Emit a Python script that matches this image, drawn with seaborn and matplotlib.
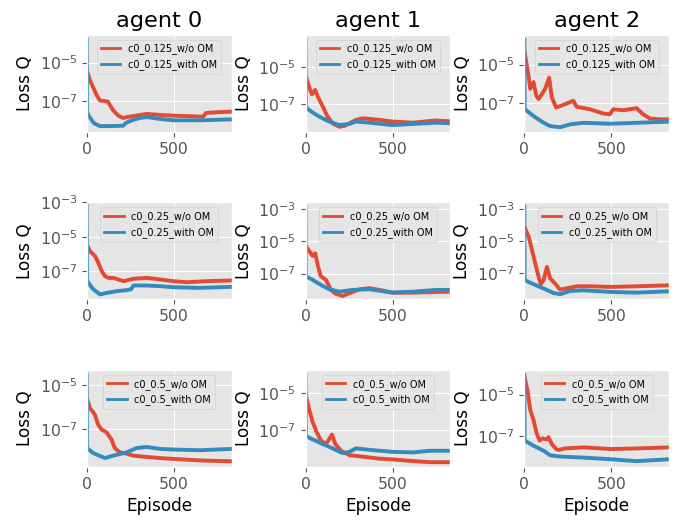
import matplotlib
matplotlib.use("Agg")
import matplotlib.pyplot as plt
import matplotlib.ticker as mticker
import seaborn as sns
import numpy as np

# ---- data: (episode, log10(Loss Q)) ----
agents = ["agent 0", "agent 1", "agent 2"]
c0_values = ["0.125", "0.25", "0.5"]

a0_c0125_wo = [(0,-5.38),(17,-5.9),(40,-6.35),(56,-6.68),(75,-6.97),(100,-7.0),(121,-7.03),(150,-7.46),(180,-7.75),(209,-7.88),(240,-7.82),(266,-7.78),(345,-7.67),(420,-7.72),(500,-7.76),(580,-7.78),(650,-7.81),(670,-7.8),(685,-7.62),(750,-7.58),(833,-7.55)]
a0_c0125_om = [(0,-3.8),(2,-7.55),(10,-7.75),(40,-8.14),(75,-8.3),(140,-8.3),(209,-8.28),(224,-8.14),(260,-8.0),(305,-7.88),(345,-7.83),(420,-7.93),(500,-8.0),(650,-8.0),(833,-7.95)]
a1_c0125_wo = [(0,-5.43),(21,-6.1),(37,-6.48),(56,-6.24),(69,-6.57),(98,-7.13),(127,-7.69),(156,-8.06),(194,-8.24),(223,-8.2),(290,-7.87),(329,-7.78),(425,-7.87),(500,-7.96),(617,-8.02),(750,-7.9),(833,-7.95)]
a1_c0125_om = [(0,-3.45),(2,-7.1),(10,-7.25),(40,-7.46),(79,-7.69),(136,-7.96),(194,-8.15),(252,-8.09),(290,-7.96),(367,-8.02),(500,-8.15),(617,-8.09),(750,-8.02),(833,-8.05)]
a2_c0125_wo = [(0,-4.25),(25,-5.65),(34,-6.26),(53,-5.91),(69,-6.61),(82,-6.79),(101,-6.53),(120,-6.26),(143,-5.68),(158,-6.7),(183,-7.23),(225,-7.09),(282,-6.88),(301,-7.19),(378,-7.32),(454,-7.54),(492,-7.58),(511,-7.32),(569,-7.37),(645,-7.26),(683,-7.58),(721,-7.79),(778,-7.84),(833,-7.84)]
a2_c0125_om = [(0,-3.7),(2,-7.3),(15,-7.4),(53,-7.67),(111,-8.02),(149,-8.19),(206,-8.25),(263,-8.1),(340,-8.02),(492,-8.07),(645,-8.02),(833,-7.96)]

a0_c025_wo = [(0,-5.45),(19,-5.84),(48,-6.13),(67,-6.52),(86,-7.0),(105,-7.29),(125,-7.39),(153,-7.39),(211,-7.58),(268,-7.44),(345,-7.39),(421,-7.48),(498,-7.58),(575,-7.64),(690,-7.58),(833,-7.54)]
a0_c025_om = [(0,-3.2),(2,-7.55),(10,-7.68),(38,-8.06),(77,-8.35),(115,-8.26),(172,-8.16),(230,-8.1),(255,-8.05),(268,-7.83),(345,-7.83),(421,-7.87),(498,-7.93),(651,-7.97),(833,-7.91)]
a1_c025_wo = [(0,-5.27),(21,-5.59),(40,-5.9),(56,-5.74),(69,-6.43),(88,-7.17),(117,-7.38),(146,-8.01),(175,-8.26),(213,-8.39),(252,-8.22),(310,-7.97),(367,-7.9),(425,-8.01),(500,-8.18),(617,-8.18),(752,-8.14),(833,-8.12)]
a1_c025_om = [(0,-2.85),(2,-7.17),(40,-7.38),(98,-7.76),(136,-7.97),(194,-8.12),(271,-8.01),(367,-7.97),(500,-8.18),(617,-8.12),(752,-8.01),(833,-8.01)]
a2_c025_wo = [(0,-4.1),(25,-4.72),(44,-5.55),(63,-6.38),(82,-7.2),(95,-7.66),(111,-7.41),(130,-6.59),(149,-7.31),(177,-7.62),(206,-8.0),(235,-7.93),(301,-7.79),(378,-7.79),(500,-7.83),(645,-7.79),(833,-7.73)]
a2_c025_om = [(0,-2.85),(2,-7.41),(53,-7.66),(111,-7.93),(168,-8.2),(206,-8.28),(263,-8.08),(340,-8.04),(500,-8.14),(645,-8.18),(833,-8.1)]

a0_c05_wo = [(0,-5.57),(17,-6.03),(46,-6.34),(65,-6.8),(85,-7.03),(113,-7.15),(142,-7.49),(161,-7.88),(190,-8.08),(229,-8.14),(267,-8.23),(344,-8.29),(421,-8.34),(500,-8.38),(652,-8.45),(833,-8.49)]
a0_c05_om = [(0,-4.5),(2,-7.88),(37,-8.11),(104,-8.34),(152,-8.23),(229,-8.08),(287,-7.88),(344,-7.83),(421,-7.92),(500,-7.95),(652,-7.98),(833,-7.92)]
a1_c05_wo = [(0,-5.04),(21,-5.88),(40,-6.53),(63,-7.09),(88,-7.56),(117,-7.75),(137,-7.47),(152,-7.24),(171,-7.75),(204,-8.12),(252,-8.36),(329,-8.44),(425,-8.55),(500,-8.59),(617,-8.68),(713,-8.74),(833,-8.74)]
a1_c05_om = [(0,-4.0),(2,-7.32),(40,-7.5),(98,-7.75),(156,-7.99),(213,-8.25),(252,-8.18),(290,-7.99),(367,-8.07),(500,-8.18),(617,-8.21),(713,-8.12),(833,-8.12)]
a2_c05_wo = [(0,-4.1),(19,-4.84),(34,-5.74),(53,-6.23),(72,-6.89),(88,-7.21),(107,-7.1),(126,-7.16),(139,-7.05),(158,-7.38),(183,-7.62),(197,-7.66),(235,-7.59),(340,-7.54),(500,-7.62),(645,-7.59),(833,-7.54)]
a2_c05_om = [(0,-4.05),(2,-7.21),(53,-7.46),(111,-7.7),(149,-7.92),(206,-7.98),(340,-8.03),(500,-8.11),(645,-8.2),(833,-8.11)]

wo_series = [[a0_c0125_wo, a1_c0125_wo, a2_c0125_wo],
             [a0_c025_wo, a1_c025_wo, a2_c025_wo],
             [a0_c05_wo, a1_c05_wo, a2_c05_wo]]
om_series = [[a0_c0125_om, a1_c0125_om, a2_c0125_om],
             [a0_c025_om, a1_c025_om, a2_c025_om],
             [a0_c05_om, a1_c05_om, a2_c05_om]]

# axis limits (log10) per panel
ylims = [[(-8.6, -3.56), (-8.52, -3.24), (-8.49, -3.46)],
         [(-8.64, -3.04), (-8.6, -2.58), (-8.6, -2.61)],
         [(-8.75, -4.29), (-9.0, -3.73), (-8.48, -3.82)]]
yticks = [[1e-5, 1e-7], [1e-3, 1e-5, 1e-7], [1e-5, 1e-7]]
n_episodes = 833

# ---- style ----
plt.style.use("ggplot")
plt.rcParams.update({
    "font.family": ["DejaVu Sans"],
    "font.size": 11.3,
    "axes.titlesize": 16.2,
    "axes.labelsize": 12.2,
    "axes.labelcolor": "black",
    "xtick.labelsize": 11.3,
    "ytick.labelsize": 11.3,
})

RED = "#E24A33"
BLUE = "#348ABD"

fig, axes = plt.subplots(3, 3, figsize=(6.78, 5.2), dpi=100)
fig.subplots_adjust(left=0.128, right=0.987, top=0.933, bottom=0.102,
                    wspace=0.51, hspace=0.727)

for r in range(3):
    for c in range(3):
        ax = axes[r, c]
        wo = wo_series[r][c]
        om = om_series[r][c]
        sns.lineplot(x=[p[0] for p in wo], y=[10 ** p[1] for p in wo], ax=ax,
                     color=RED, linewidth=2.8, estimator=None,
                     label=f"c0_{c0_values[r]}_w/o OM")
        sns.lineplot(x=[p[0] for p in om], y=[10 ** p[1] for p in om], ax=ax,
                     color=BLUE, linewidth=2.8, estimator=None,
                     label=f"c0_{c0_values[r]}_with OM")
        ax.set_yscale("log")
        lo, hi = ylims[r][c]
        ax.set_ylim(10 ** lo, 10 ** hi)
        ax.set_xlim(0, n_episodes)
        ax.set_xticks([0, 500])
        ax.set_yticks(yticks[r])
        ax.yaxis.set_minor_locator(mticker.NullLocator())
        ax.set_ylabel("Loss Q")
        ax.set_xlabel("Episode" if r == 2 else "")
        if r == 0:
            ax.set_title(agents[c])
        leg = ax.legend(loc="upper center", fontsize=7)
        for h in leg.get_lines():
            h.set_linewidth(2.0)

fig.savefig("out.png", dpi=100)
